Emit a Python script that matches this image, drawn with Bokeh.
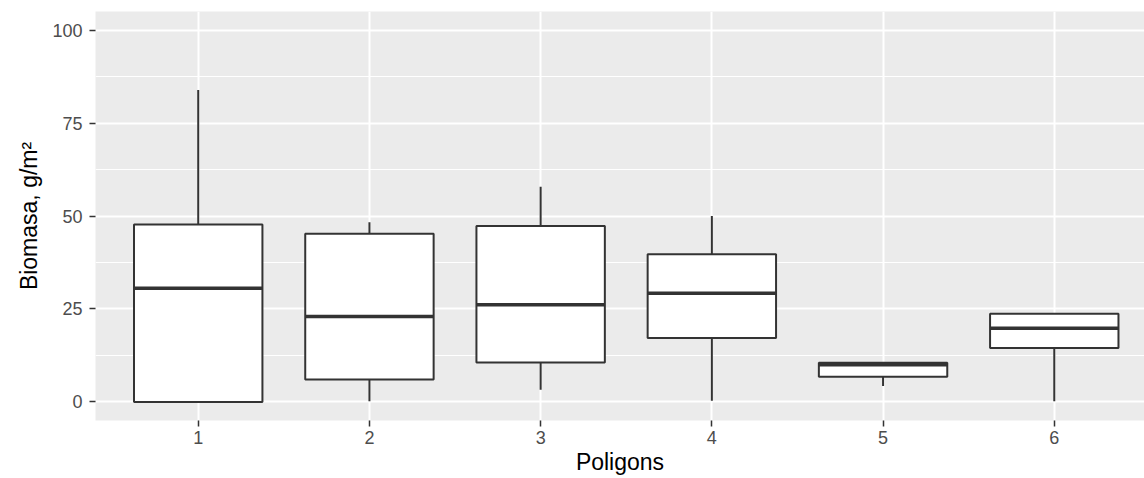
from bokeh.plotting import figure
from bokeh.models import FixedTicker, ColumnDataSource, Range1d
from bokeh.embed import file_html
from bokeh.resources import INLINE

# ---- data ----
categories = ["1", "2", "3", "4", "5", "6"]
positions = [1, 2, 3, 4, 5, 6]
whisker_low = [0.0, 0.2, 3.3, 0.3, 4.3, 0.2]
q1 = [0.0, 6.0, 10.6, 17.2, 6.8, 14.5]
median = [30.6, 23.0, 26.1, 29.2, 10.0, 19.8]
q3 = [47.7, 45.2, 47.3, 39.7, 10.5, 23.7]
whisker_high = [83.9, 48.3, 57.9, 50.0, 10.5, 23.7]
y_ticks = [0, 25, 50, 75, 100]
y_minor = [12.5, 37.5, 62.5, 87.5]

box_w = 0.75
src = ColumnDataSource(dict(
    x=positions,
    left=[p - box_w / 2 for p in positions],
    right=[p + box_w / 2 for p in positions],
    lo=whisker_low, q1=q1, med=median, q3=q3, hi=whisker_high,
))

p = figure(width=1144, height=478, output_backend="svg", toolbar_location=None,
           x_range=Range1d(0.4, 6.527), y_range=Range1d(-5, 105),
           min_border_left=95, min_border_right=0, min_border_top=11,
           min_border_bottom=58)

p.background_fill_color = "#EBEBEB"
p.border_fill_color = "white"
p.outline_line_color = None

# whiskers
p.segment(x0="x", x1="x", y0="lo", y1="q1", source=src, line_color="#333333", line_width=2)
p.segment(x0="x", x1="x", y0="q3", y1="hi", source=src, line_color="#333333", line_width=2)
# boxes
p.quad(left="left", right="right", bottom="q1", top="q3", source=src,
       fill_color="white", line_color="#333333", line_width=2)
# medians
p.segment(x0="left", x1="right", y0="med", y1="med", source=src,
          line_color="#333333", line_width=3.5)

# axes
p.xaxis.ticker = FixedTicker(ticks=positions, minor_ticks=[])
p.xaxis.major_label_overrides = {pos: c for pos, c in zip(positions, categories)}
p.yaxis.ticker = FixedTicker(ticks=y_ticks, minor_ticks=y_minor)

for ax in (p.xaxis[0], p.yaxis[0]):
    ax.axis_line_color = None
    ax.major_tick_line_color = "#333333"
    ax.major_tick_line_width = 1.5
    ax.major_tick_in = 0
    ax.major_tick_out = 6
    ax.minor_tick_line_color = None
    ax.major_label_text_font = "Liberation Sans"
    ax.major_label_text_font_size = "18px"
    ax.major_label_text_color = "#4D4D4D"
    ax.axis_label_text_font = "Liberation Sans"
    ax.axis_label_text_font_size = "23px"
    ax.axis_label_text_font_style = "normal"
    ax.axis_label_text_color = "black"

p.xaxis.axis_label = "Poligons"
p.yaxis.axis_label = "Biomasa, g/m²"
p.xaxis.major_label_standoff = 4
p.xaxis.axis_label_standoff = 2
p.yaxis.major_label_standoff = 7
p.yaxis.axis_label_standoff = 7

# grid
p.xgrid.grid_line_color = "white"
p.xgrid.grid_line_width = 2
p.ygrid.grid_line_color = "white"
p.ygrid.grid_line_width = 2
p.ygrid.minor_grid_line_color = "white"
p.ygrid.minor_grid_line_width = 1

open("out.html", "w").write(file_html(p, INLINE))
